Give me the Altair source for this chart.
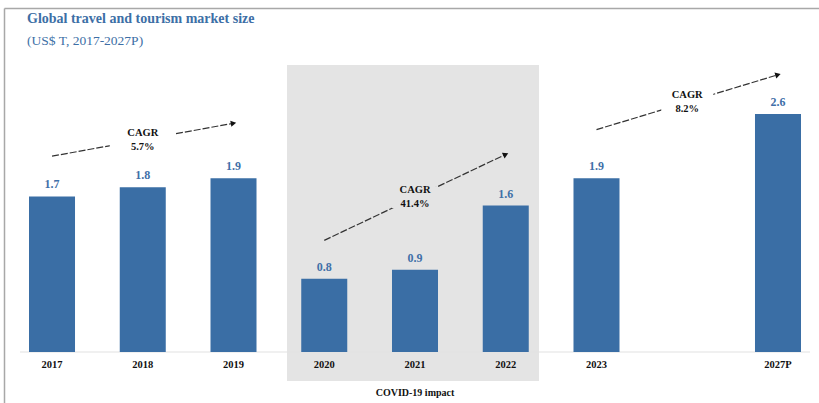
import math
import altair as alt
import pandas as pd

# ---- data ----
years = ["2017", "2018", "2019", "2020", "2021", "2022", "2023", "2027P"]
values = [1.7, 1.8, 1.9, 0.8, 0.9, 1.6, 1.9, 2.6]
slots = ["2017", "2018", "2019", "2020", "2021", "2022", "2023", " ", "2027P"]

arrow_from = ["2017", "2020", "2023"]
arrow_to = ["2019", "2022", "2027P"]
arrow_mid = ["2018", "2021", " "]
arrow_y0 = [2.14, 1.22, 2.43]
arrow_y1 = [2.50, 2.16, 3.03]
cagr_labels = ["CAGR\n5.7%", "CAGR\n41.4%", "CAGR\n8.2%"]

title_text = "Global travel and tourism market size"
subtitle_text = "(US$ T, 2017-2027P)"
covid_text = "COVID-19 impact"

# ---- layout constants ----
W, H = 819, 403
BASE_PX = 352
PX_PER_UNIT = 91.5
STEP = 90.75
FONT = "Liberation Serif"
BAR_COLOR = "#3a6ea5"
LABEL_BLUE = "#3f70a8"
BOX_GRAY = "#e4e4e4"

ymin = -(H - BASE_PX) / PX_PER_UNIT
ymax = BASE_PX / PX_PER_UNIT

xscale = alt.Scale(domain=slots, paddingInner=0.493, paddingOuter=0.259, align=0.617)
yscale = alt.Scale(domain=[ymin, ymax], nice=False, zero=False)

bars_df = pd.DataFrame({"year": years, "value": values, "zero": [0.0] * len(years),
                        "lab": [-0.142] * len(years)})

X = alt.X("year:N", scale=xscale, axis=None)

def Y(field):
    return alt.Y(field, scale=yscale, axis=None)

layers = []

one_df = pd.DataFrame({"a": [0]})

# frame lines
layers.append(alt.Chart(one_df).mark_rule(color="#a8a8a8", strokeWidth=1.5).encode(
    x=alt.value(4.5), y=alt.value(8.5), y2=alt.value(H)))
layers.append(alt.Chart(one_df).mark_rule(color="#a8a8a8", strokeWidth=1.5).encode(
    x=alt.value(4.5), x2=alt.value(W), y=alt.value(8.5)))

# covid shaded box
box_df = pd.DataFrame({"top": [3.137], "bottom": [-0.317]})
layers.append(alt.Chart(box_df).mark_rect(color=BOX_GRAY).encode(
    x=alt.value(287), x2=alt.value(539),
    y=Y("top:Q"), y2="bottom:Q"))

# baseline
base_df = pd.DataFrame({"z": [0.0]})
layers.append(alt.Chart(base_df).mark_rule(color="#e2e2e2", strokeWidth=1.2).encode(
    x=alt.value(20), x2=alt.value(810), y=Y("z:Q")))

# bars
layers.append(alt.Chart(bars_df).mark_bar(color=BAR_COLOR).encode(
    x=X, y=Y("value:Q"), y2="zero:Q"))

# value labels
layers.append(alt.Chart(bars_df).mark_text(
    font=FONT, fontWeight="bold", fontSize=12, color=LABEL_BLUE,
    baseline="bottom", dy=-5).encode(
    x=X, y=Y("value:Q"), text=alt.Text("value:Q", format=".1f")))

# category labels
layers.append(alt.Chart(bars_df).mark_text(
    font=FONT, fontWeight="bold", fontSize=10.5, color="#111111",
    baseline="middle").encode(
    x=X, y=Y("lab:Q"), text="year:N"))

# covid label
covid_df = pd.DataFrame({"year": ["2021"], "t": [covid_text], "v": [-0.448]})
layers.append(alt.Chart(covid_df).mark_text(
    font=FONT, fontWeight="bold", fontSize=10, color="#111111",
    baseline="middle").encode(
    x=X, y=Y("v:Q"), text="t:N"))

# arrows
bg_sizes = [66, 46, 52]
bg_colors = ["white", BOX_GRAY, "white"]
rect_path = "M-1,-0.46L1,-0.46L1,0.46L-1,0.46Z"
for i in range(3):
    line_df = pd.DataFrame({"year": [arrow_from[i], arrow_to[i]],
                            "v": [arrow_y0[i], arrow_y1[i]]})
    layers.append(alt.Chart(line_df).mark_line(
        color="#333333", strokeWidth=1.2, strokeDash=[7, 2]).encode(
        x=X, y=Y("v:Q")))
    n_steps = slots.index(arrow_to[i]) - slots.index(arrow_from[i])
    dx = n_steps * STEP
    dy = (arrow_y1[i] - arrow_y0[i]) * PX_PER_UNIT
    ang = math.degrees(math.atan2(dx, dy))
    head_df = pd.DataFrame({"year": [arrow_to[i]], "v": [arrow_y1[i]]})
    layers.append(alt.Chart(head_df).mark_point(
        shape="triangle-up", filled=True, color="#111111", opacity=1,
        size=40, angle=ang).encode(x=X, y=Y("v:Q")))
    mid_df = pd.DataFrame({"year": [arrow_mid[i]],
                           "v": [(arrow_y0[i] + arrow_y1[i]) / 2],
                           "t": [cagr_labels[i]]})
    layers.append(alt.Chart(mid_df).mark_point(
        shape=rect_path, filled=True, color=bg_colors[i], opacity=1,
        size=bg_sizes[i] ** 2, strokeWidth=0).encode(x=X, y=Y("v:Q")))
    layers.append(alt.Chart(mid_df).mark_text(
        font=FONT, fontWeight="bold", fontSize=10.5, color="#111111",
        lineBreak="\n", baseline="middle", lineHeight=14, dy=-7).encode(
        x=X, y=Y("v:Q"), text="t:N"))

# titles
t_df = pd.DataFrame({"t": [title_text], "s": [subtitle_text]})
layers.append(alt.Chart(t_df).mark_text(
    font=FONT, fontWeight="bold", fontSize=14, color="#3d6fa6",
    align="left", baseline="alphabetic").encode(
    x=alt.value(27), y=alt.value(23), text="t:N"))
layers.append(alt.Chart(t_df).mark_text(
    font=FONT, fontSize=13.5, color="#3d6fa6",
    align="left", baseline="alphabetic").encode(
    x=alt.value(27), y=alt.value(45), text="s:N"))

chart = alt.layer(*layers).properties(
    width=W, height=H,
    autosize=alt.AutoSizeParams(type="none"),
    padding=0,
    background="white",
).configure_view(stroke=None)

chart.save("out.html", embed_options={"renderer": "svg", "actions": False})
